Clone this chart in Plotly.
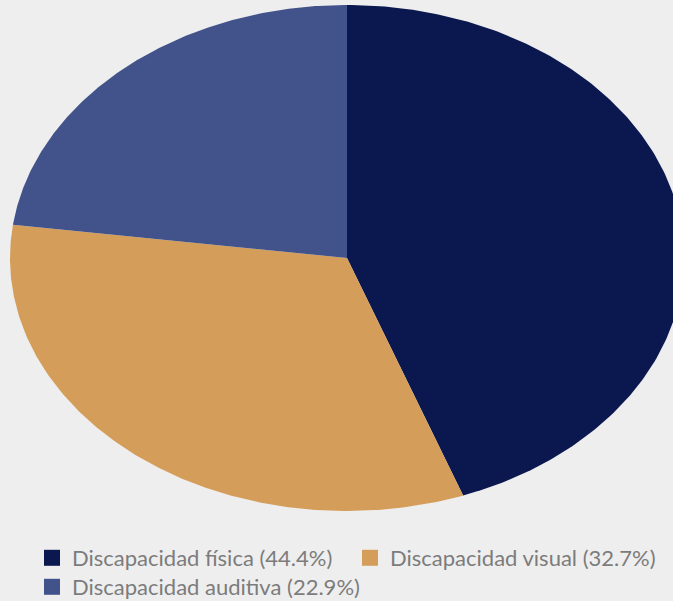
import numpy as np
import plotly.graph_objects as go

labels = ["Discapacidad física", "Discapacidad visual", "Discapacidad auditiva"]
values = [44.4, 32.7, 22.9]
colors = ["#0b1850", "#d49e5a", "#41538a"]
legend_rows = ["legend", "legend", "legend2"]

W, H = 673, 601
cx, cy, a, b = 347, 258, 337, 253

fig = go.Figure()
total = sum(values)
start = 0.0
for lab, val, col in zip(labels, values, colors):
    end = start + val / total
    th = np.linspace(start * 2 * np.pi, end * 2 * np.pi, 200)
    xs = np.concatenate([[cx], cx + a * np.sin(th), [cx]])
    ys = np.concatenate([[cy], cy - b * np.cos(th), [cy]])
    fig.add_trace(go.Scatter(x=xs, y=ys, fill="toself", fillcolor=col, mode="lines",
                             line=dict(width=0, color=col), hoverinfo="text",
                             text=f"{lab}: {val}%", showlegend=False))
    start = end

for lab, val, col, lg in zip(labels, values, colors, legend_rows):
    fig.add_trace(go.Scatter(x=[None], y=[None], mode="markers", legend=lg,
                             marker=dict(symbol="square", size=16, color=col),
                             name=f"{lab} ({val}%)"))

leg_font = dict(family="Lato", size=22, color="#7c7c7c")
fig.update_layout(
    width=W, height=H, margin=dict(l=0, r=0, t=0, b=0, autoexpand=False),
    paper_bgcolor="#eeeeee", plot_bgcolor="rgba(0,0,0,0)",
    xaxis=dict(range=[0, W], visible=False, fixedrange=True),
    yaxis=dict(range=[H, 0], visible=False, fixedrange=True),
    legend=dict(orientation="h", x=32 / W, y=1 - 558 / H, xanchor="left", yanchor="middle",
                font=leg_font, bgcolor="rgba(0,0,0,0)", entrywidth=273, entrywidthmode="pixels"),
    legend2=dict(orientation="h", x=32 / W, y=1 - 587 / H, xanchor="left", yanchor="middle",
                 font=leg_font, bgcolor="rgba(0,0,0,0)"),
    font=dict(family="Lato"),
)

fig.write_html("out.html", config={"displayModeBar": False},
               post_script="document.body.style.margin='0';")
